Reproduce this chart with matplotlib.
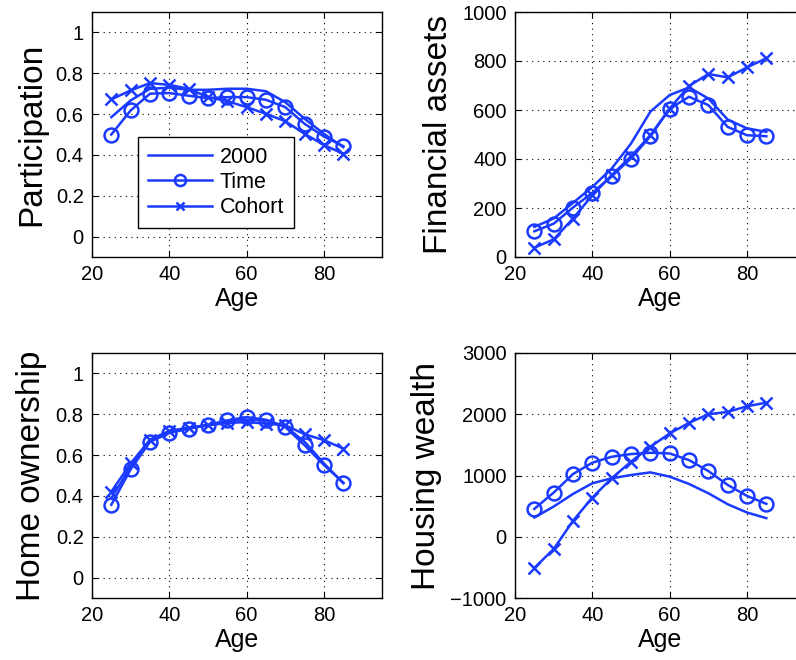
import matplotlib
matplotlib.use("Agg")
import matplotlib.pyplot as plt
from matplotlib.ticker import FuncFormatter

plt.rcParams['font.family'] = ['Liberation Sans', 'DejaVu Sans']

ages = [25, 30, 35, 40, 45, 50, 55, 60, 65, 70, 75, 80, 85]

# participation
part_2000 = [0.585, 0.667, 0.724, 0.729, 0.719, 0.719, 0.724, 0.724, 0.712, 0.658, 0.577, 0.503, 0.438]
part_time = [0.50, 0.618, 0.70, 0.703, 0.69, 0.678, 0.683, 0.683, 0.67, 0.634, 0.552, 0.49, 0.443]
part_cohort = [0.672, 0.716, 0.752, 0.743, 0.724, 0.683, 0.663, 0.634, 0.601, 0.565, 0.503, 0.449, 0.405]

# financial assets
fin_2000 = [123, 157, 221, 286, 361, 463, 593, 661, 692, 647, 561, 525, 511]
fin_time = [105, 136, 202, 262, 330, 402, 493, 605, 654, 620, 531, 497, 493]
fin_cohort = [38, 72, 157, 252, 334, 411, 497, 606, 698, 747, 733, 774, 811]

# home ownership
home_2000 = [0.389, 0.543, 0.673, 0.716, 0.733, 0.749, 0.767, 0.773, 0.770, 0.741, 0.665, 0.559, 0.462]
home_time = [0.357, 0.53, 0.665, 0.708, 0.729, 0.746, 0.77, 0.786, 0.773, 0.737, 0.648, 0.551, 0.465]
home_cohort = [0.421, 0.559, 0.676, 0.718, 0.734, 0.746, 0.757, 0.762, 0.754, 0.746, 0.702, 0.673, 0.632]

# housing wealth
house_2000 = [314, 493, 699, 873, 954, 1008, 1051, 981, 862, 710, 531, 396, 304]
house_time = [455, 721, 1024, 1209, 1306, 1350, 1371, 1360, 1252, 1073, 846, 667, 537]
house_cohort = [-509, -200, 260, 640, 954, 1225, 1469, 1686, 1859, 2000, 2038, 2130, 2190]

col = '#1a3aff'
W, H = 796, 660
fig = plt.figure(figsize=(W / 100, H / 100), dpi=100)

def make_ax(left, top):
    return fig.add_axes([left / W, (H - top - 245) / H, 290 / W, 245 / H])

panels = [
    (make_ax(92, 12), 'Participation', (part_2000, part_time, part_cohort), (-0.1, 1.1), [0, 0.2, 0.4, 0.6, 0.8, 1]),
    (make_ax(515, 12), 'Financial assets', (fin_2000, fin_time, fin_cohort), (0, 1000), [0, 200, 400, 600, 800, 1000]),
    (make_ax(92, 353), 'Home ownership', (home_2000, home_time, home_cohort), (-0.1, 1.1), [0, 0.2, 0.4, 0.6, 0.8, 1]),
    (make_ax(515, 353), 'Housing wealth', (house_2000, house_time, house_cohort), (-1000, 3000), [-1000, 0, 1000, 2000, 3000]),
]

fmt = FuncFormatter(lambda v, p: ('%g' % v).replace('-', '\u2212'))

for i, (ax, ylab, (s0, s1, s2), ylim, yt) in enumerate(panels):
    ax.plot(ages, s0, color=col, lw=1.8, label='2000')
    ax.plot(ages, s1, color=col, lw=1.8, marker='o', ms=10, mfc='none', mew=1.8, label='Time')
    ax.plot(ages, s2, color=col, lw=1.8, marker='x', ms=8, mew=1.8, label='Cohort')
    ax.set_xlim(20, 95)
    ax.set_ylim(*ylim)
    ax.set_xticks([20, 40, 60, 80])
    ax.set_yticks(yt)
    ax.yaxis.set_major_formatter(fmt)
    ax.tick_params(direction='in', labelsize=14.5, length=4, top=True, right=True, pad=6)
    ax.grid(True, color='black', linestyle=(0, (1, 4)), linewidth=0.8)
    ax.set_xlabel('Age', fontsize=18, labelpad=2)
    ax.set_ylabel(ylab, fontsize=24, labelpad=6)
    for sp in ax.spines.values():
        sp.set_linewidth(1.0)
    if i == 0:
        leg = ax.legend(loc='upper left', bbox_to_anchor=(0.159, 0.49), borderaxespad=0,
                        fontsize=15.5, fancybox=False, edgecolor='black', framealpha=1,
                        handlelength=3.0, handletextpad=0.35, borderpad=0.45, labelspacing=0.2,
                        markerscale=0.8)
        leg.get_frame().set_linewidth(1.0)

fig.savefig('out.png', dpi=100)
